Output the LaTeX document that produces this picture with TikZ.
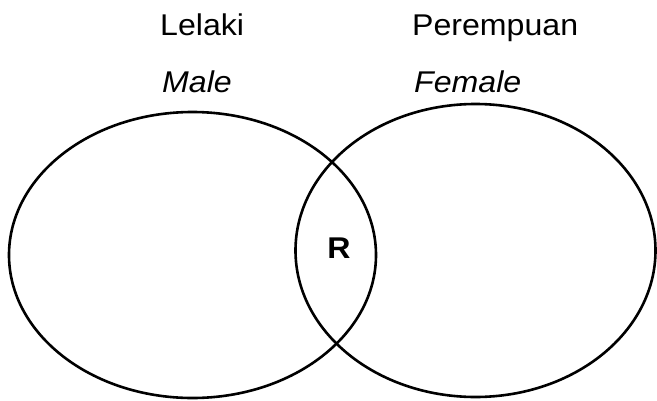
\documentclass[tikz,border=0pt]{standalone}
\usepackage{fontspec}
\usetikzlibrary{shapes.geometric}
\setmainfont{Liberation Sans}
\newfontfamily\lblfont{Liberation Sans}[FakeStretch=1.07]
\begin{document}
\begin{tikzpicture}[x=1pt,y=-1pt,
  setline/.style={draw=black,line width=2.6pt},
  lbl/.style={inner sep=0pt,anchor=base west,font=\lblfont\fontsize{30}{34}\selectfont},
  ilbl/.style={lbl,font=\lblfont\itshape\fontsize{30}{34}\selectfont}]
\useasboundingbox (0,0) rectangle (657,400);
\fill[white] (0,0) rectangle (657,400);
\node[setline,ellipse,minimum width=367pt,minimum height=286pt,inner sep=0pt] (male) at (192.5,255) {};
\node[setline,ellipse,minimum width=360pt,minimum height=293pt,inner sep=0pt] (female) at (475.5,250.5) {};
\node[lbl] (lelaki) at (160,35) {Lelaki};
\node[ilbl] (malet) at (162,92) {Male};
\node[lbl] (perempuan) at (412,35) {Perempuan};
\node[ilbl] (femalet) at (414,92) {Female};
\node[inner sep=0pt,anchor=base,font=\lblfont\bfseries\fontsize{30}{34}\selectfont] (r) at (339,258) {R};
\end{tikzpicture}
\end{document}
